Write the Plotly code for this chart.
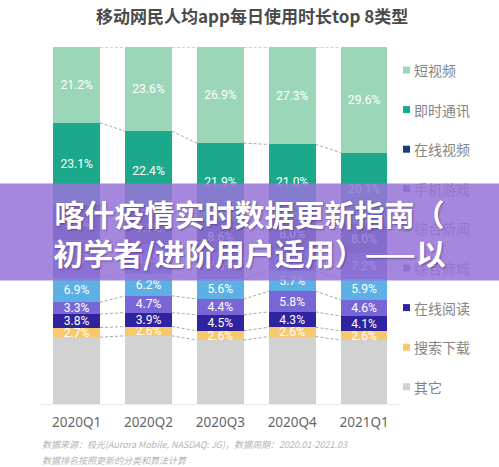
import plotly.graph_objects as go

quarters = ["2020Q1", "2020Q2", "2020Q3", "2020Q4", "2021Q1"]

# series listed bottom -> top of the stack
series_names = ["其它", "搜索下载", "在线阅读", "综合商城", "综合新闻", "手机游戏", "在线视频", "即时通讯", "短视频"]
other_vals      = [18.7, 19.1, 17.9, 18.9, 17.9]
search_vals     = [2.7, 2.6, 2.6, 2.6, 2.6]
reading_vals    = [3.8, 3.9, 4.5, 4.3, 4.1]
mall_vals       = [3.3, 4.7, 4.4, 5.8, 4.6]
news_vals       = [6.9, 6.2, 5.6, 5.7, 5.9]
game_vals       = [10.5, 8.4, 7.6, 6.4, 7.2]
video_vals      = [9.8, 9.1, 8.6, 8.0, 8.0]
im_vals         = [23.1, 22.4, 21.9, 21.0, 20.1]
short_vals      = [21.2, 23.6, 26.9, 27.3, 29.6]
series_values = [other_vals, search_vals, reading_vals, mall_vals, news_vals,
                 game_vals, video_vals, im_vals, short_vals]
series_colors = ["#d2d2d2", "#f8c96c", "#2f239f", "#7866d6", "#5cb0e4",
                 "#4b57cc", "#183f7a", "#1ca98b", "#9cd6b8"]
show_label = [False, True, True, True, True, True, True, True, True]

title_text = "移动网民人均app每日使用时长top 8类型"
note_lines = ["数据来源：极光(Aurora Mobile, NASDAQ: JG)，数据周期：2020.01-2021.03",
              "数据排名按照更新的分类和算法计算"]
banner_text = "喀什疫情实时数据更新指南（<br>初学者/进阶用户适用）——以"

W, H = 499, 467
ML, MR, MT, MB = 40, 99, 47, 63
BAR_W = 0.65
xs = list(range(len(quarters)))

def px_x(p):
    return (p - ML) / (W - ML - MR)

def px_y(p):
    return (H - MB - p) / (H - MT - MB)

fig = go.Figure()

# dashed connectors between bars at each stack boundary
cum = [0.0] * len(quarters)
cx, cy = [], []
for vals in series_values:
    cum = [c + v for c, v in zip(cum, vals)]
    for i in range(len(quarters) - 1):
        cx += [i + BAR_W / 2, i + 1 - BAR_W / 2, None]
        cy += [cum[i], cum[i + 1], None]
fig.add_trace(go.Scatter(x=cx, y=cy, mode="lines", showlegend=False, hoverinfo="skip",
                         line=dict(color="#a8a8a8", width=1, dash="3px,2px")))

for name, vals, col, lab in zip(series_names, series_values, series_colors, show_label):
    fig.add_trace(go.Bar(
        x=xs, y=vals, name=name, marker=dict(color=col, line=dict(width=0)),
        width=BAR_W, showlegend=False,
        text=[f"{v:.1f}%" for v in vals] if lab else None,
        textposition="inside", insidetextanchor="middle", textangle=0,
        textfont=dict(color="white", size=13, family="Roboto, Noto Sans"),
    ))

shapes = []
annotations = []
# manual legend (top -> bottom)
leg_y0, leg_dy = 70, 39.6
for k, (name, col) in enumerate(zip(series_names[::-1], series_colors[::-1])):
    yc = leg_y0 + k * leg_dy
    shapes.append(dict(type="rect", xref="paper", yref="paper",
                       x0=px_x(403), x1=px_x(410), y0=px_y(yc + 3.5), y1=px_y(yc - 3.5),
                       fillcolor=col, line=dict(width=0)))
    annotations.append(dict(x=px_x(412), y=px_y(yc), xref="paper", yref="paper",
                            xanchor="left", yanchor="middle", showarrow=False, text=name,
                            font=dict(size=14, color="#858585", family="Noto Sans CJK SC")))

annotations.append(dict(x=px_x(252), y=px_y(15), xref="paper", yref="paper",
                        xanchor="center", yanchor="middle", showarrow=False,
                        text=f"<b>{title_text}</b>",
                        font=dict(size=17, color="#4a4a4a", family="Noto Sans CJK SC")))
for j, line in enumerate(note_lines):
    annotations.append(dict(x=px_x(40), y=px_y(444 + j * 17), xref="paper", yref="paper",
                            xanchor="left", yanchor="middle", showarrow=False,
                            text=f"<i>{line}</i>",
                            font=dict(size=9, color="#b4b4b4", family="Noto Sans CJK SC")))

# overlay banner (drawn last so it covers chart and legend)
annotations.append(dict(x=px_x(249.5), y=px_y(232), xref="paper", yref="paper",
                        xanchor="center", yanchor="middle", showarrow=False,
                        text=f"<b>{banner_text}</b>", width=497, height=94, borderpad=1,
                        bgcolor="rgba(150,116,215,0.86)", align="center",
                        font=dict(size=30, color="white", family="Noto Sans CJK SC",
                                  shadow="1px 1px 2px rgba(40,20,80,0.45)")))

fig.update_layout(
    width=W, height=H, barmode="stack",
    margin=dict(l=ML, r=MR, t=MT, b=MB, pad=0),
    paper_bgcolor="white", plot_bgcolor="white",
    showlegend=False,
    xaxis=dict(range=[-0.51, 4.5], tickvals=xs, ticktext=quarters, showgrid=False,
               zeroline=False, showline=True, linecolor="#ebebeb", linewidth=1, ticks="",
               ticklabelstandoff=6,
               tickfont=dict(size=13.5, color="#666666", family="Noto Sans"),
               fixedrange=True),
    yaxis=dict(range=[0, 100], visible=False, showgrid=False, fixedrange=True),
    shapes=shapes, annotations=annotations,
    uniformtext=dict(minsize=12, mode="show"),
)

fig.write_html("out.html", config={"displayModeBar": False},
               post_script="document.body.style.margin='0';document.body.style.overflow='hidden';")
